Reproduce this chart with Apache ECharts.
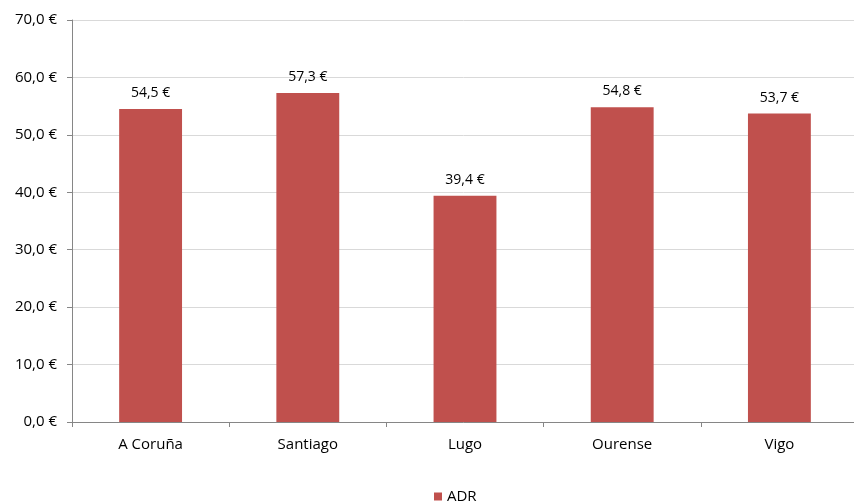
<!DOCTYPE html>
<html><head><meta charset="utf-8">
<script src="https://cdn.jsdelivr.net/npm/echarts@6/dist/echarts.min.js"></script>
<style>html,body{margin:0;padding:0;background:#fff}#c{width:854px;height:504px}</style>
</head><body><div id="c"></div>
<script>
const categories = ['A Coruña', 'Santiago', 'Lugo', 'Ourense', 'Vigo'];
const adrValues = [54.5, 57.3, 39.4, 54.8, 53.7];
const seriesName = 'ADR';
const fmt = v => v.toFixed(1).replace('.', ',') + ' €';
const font = '"Open Sans", sans-serif';
const chart = echarts.init(document.getElementById('c'));
chart.setOption({
  animation: false,
  textStyle: { fontFamily: font },
  grid: { left: 72, width: 786, top: 20, height: 402, containLabel: false, outerBoundsMode: 'none' },
  legend: {
    data: [seriesName], top: 489, left: 434, padding: 0, itemWidth: 8, itemHeight: 8, itemGap: 5,
    icon: 'rect', textStyle: { fontSize: 15, color: '#000', fontFamily: font }
  },
  xAxis: {
    type: 'category', data: categories,
    axisLine: { lineStyle: { color: '#868686' } },
    axisTick: { show: true, length: 5, lineStyle: { color: '#868686' } },
    axisLabel: { color: '#000', fontSize: 15, margin: 15, fontFamily: font }
  },
  yAxis: {
    type: 'value', min: 0, max: 70, interval: 10,
    axisLine: { show: true, lineStyle: { color: '#868686' } },
    axisTick: { show: true, length: 5, lineStyle: { color: '#868686' } },
    splitLine: { lineStyle: { color: '#D9D9D9' } },
    axisLabel: { color: '#000', fontSize: 15, margin: 15, fontFamily: font, formatter: v => fmt(v) }
  },
  series: [{
    name: seriesName, type: 'bar', data: adrValues, barWidth: '40%',
    itemStyle: { color: '#C0504D' },
    label: { show: true, position: 'top', distance: 9, color: '#000', fontSize: 14, fontFamily: font, formatter: p => fmt(p.value) }
  }]
});
</script></body></html>
